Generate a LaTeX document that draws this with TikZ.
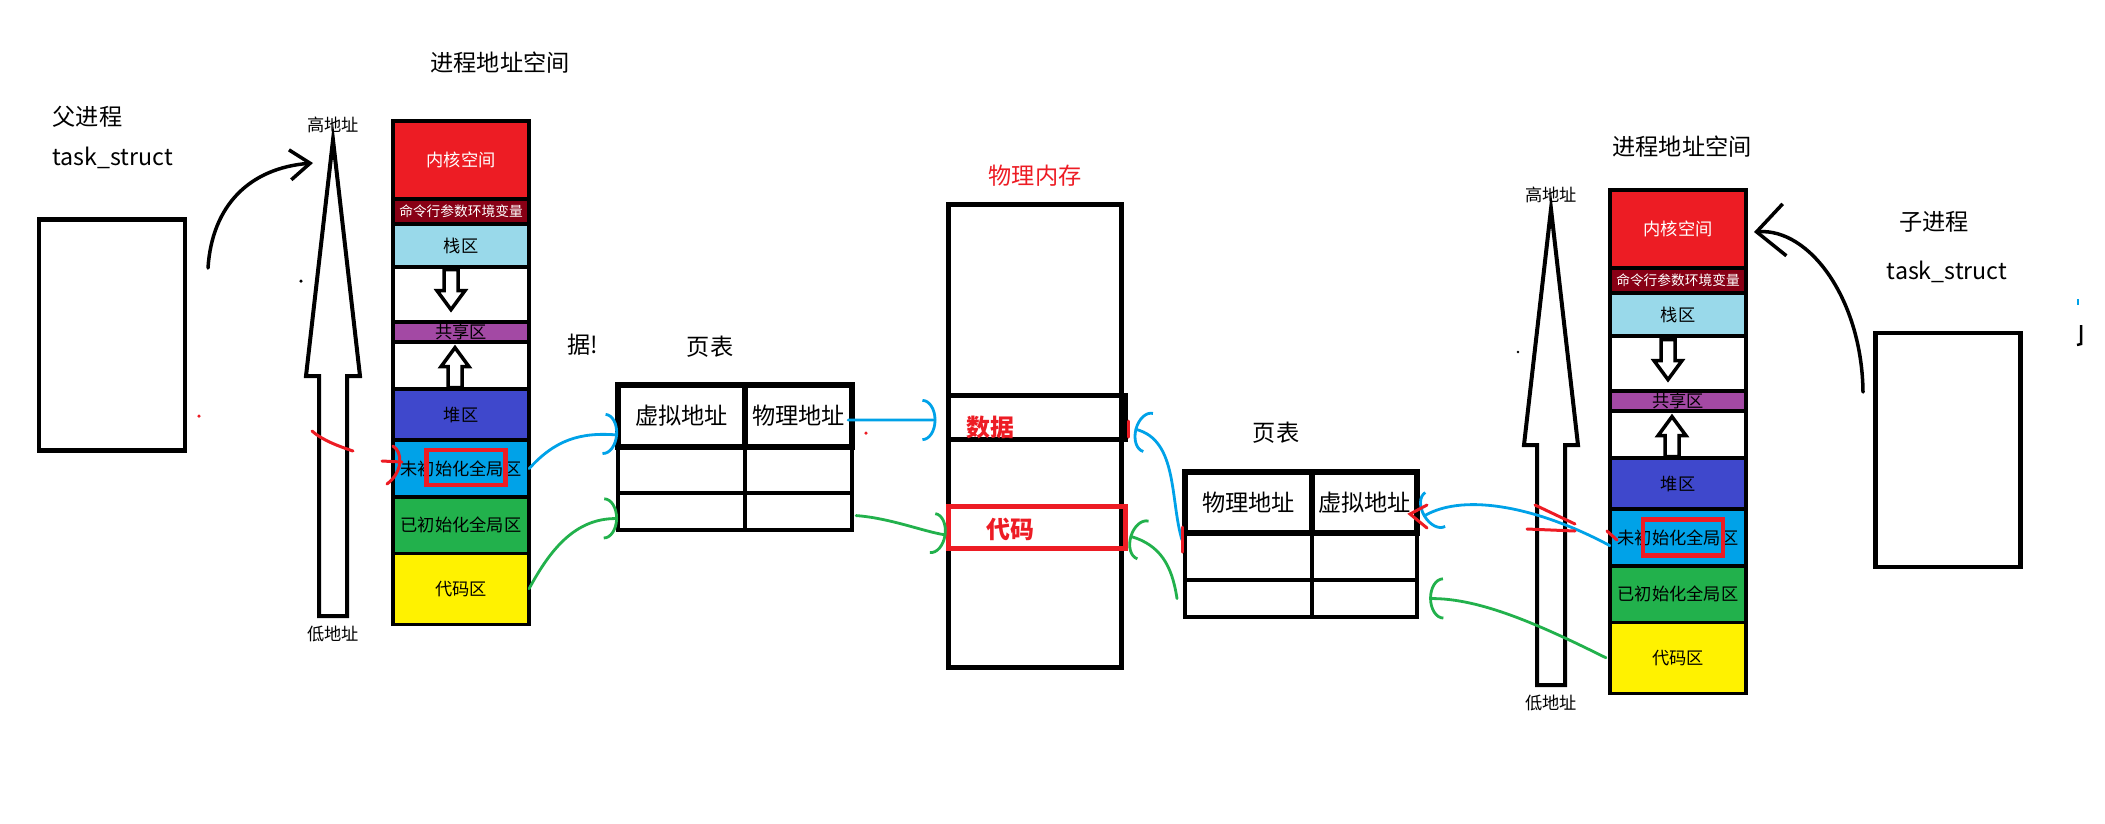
\documentclass[tikz,border=0pt]{standalone}
\usepackage{fontspec}
\setmainfont{Noto Sans CJK SC}
\usetikzlibrary{positioning, calc, arrows.meta}
\definecolor{paintred}{HTML}{ED1C24}
\definecolor{paintdark}{HTML}{880015}
\definecolor{paintsky}{HTML}{99D9EA}
\definecolor{paintpurple}{HTML}{A349A4}
\definecolor{paintindigo}{HTML}{3F48CC}
\definecolor{paintcyan}{HTML}{00A2E8}
\definecolor{paintgreen}{HTML}{22B14C}
\definecolor{paintyellow}{HTML}{FFF200}

\begin{document}
\begin{tikzpicture}[
    x=0.01cm, y=-0.01cm,
    txt/.style={inner sep=0pt, font=\fontsize{6.6}{7}\selectfont},
    addr/.style={inner sep=0pt, font=\fontsize{4.9}{5}\selectfont},
    seg/.style={rectangle, draw=black, fill=#1, line width=0.035cm, minimum width=1.36cm, inner sep=0pt, outer sep=0pt, font=\fontsize{4.9}{5}\selectfont},
    cell/.style={rectangle, draw=black, line width=0.04cm, inner sep=0pt, outer sep=0pt, font=\fontsize{6.6}{7}\selectfont},
    head/.style={cell, line width=0.055cm, minimum height=0.62cm},
    redbold/.style={inner sep=0pt, text=paintred, font=\fontsize{6.8}{7}\selectfont\bfseries},
    link/.style={line width=0.028cm, line cap=round, -{Arc Barb[length=0.14cm, width=0.42cm]}},
    sweep/.style={line width=0.035cm, line cap=round, -{Straight Barb[length=0.2cm, width=0.3cm]}},
    scribble/.style={paintred, line width=0.03cm, line cap=round},
    hollowup/.pic={\draw[line width=0.035cm, fill=white] (-7,20) -- (-7,-1) -- (-14,-1) -- (0,-20) -- (14,-1) -- (7,-1) -- (7,20) -- cycle;},
    bigup/.pic={\draw[line width=0.04cm, fill=white] (0,0) -- (27,236) -- (14,236) -- (14,476) -- (-14,476) -- (-14,236) -- (-27,236) -- cycle;}
]
\useasboundingbox (0,0) rectangle (2105,823);
\fill[white] (0,0) rectangle (2105,823);

% Parent process
\node[txt, anchor=west] (ptitle) at (52,117) {父进程};
\node[txt, anchor=west] (ptask) at (52,158) {task\_struct};
\node[draw, line width=0.042cm, minimum width=1.46cm, minimum height=2.31cm] (pbox) at (112,335) {};

% Left address space
\node[txt] (lspace) at (500,63) {进程地址空间};
\pic at (333,140) {bigup};
\node[addr] (lhigh) at (333,125) {高地址};
\node[addr] (llow) at (333,634) {低地址};
\node[seg=paintred, minimum height=0.78cm, anchor=north, text=white] (lkernel) at (461,121) {内核空间};
\node[seg=paintdark, minimum height=0.25cm, below=0pt of lkernel, text=white, font=\fontsize{3.9}{4}\selectfont] (largs) {命令行参数环境变量};
\node[seg=paintsky, minimum height=0.43cm, below=0pt of largs] (lstack) {栈区};
\node[seg=white, minimum height=0.55cm, below=0pt of lstack] (lgap1) {};
\node[seg=paintpurple, minimum height=0.20cm, below=0pt of lgap1] (lshare) {共享区};
\node[seg=white, minimum height=0.47cm, below=0pt of lshare] (lgap2) {};
\node[seg=paintindigo, minimum height=0.51cm, below=0pt of lgap2] (lheap) {堆区};
\node[seg=paintcyan, minimum height=0.57cm, below=0pt of lheap] (lbss) {未初始化全局区};
\node[seg=paintgreen, minimum height=0.56cm, below=0pt of lbss] (ldata) {已初始化全局区};
\node[seg=paintyellow, minimum height=0.71cm, below=0pt of ldata] (lcode) {代码区};
\pic[rotate=180] at ($(lgap1.center)+(-10,-5)$) {hollowup};
\pic at ($(lgap2.center)+(-6,2)$) {hollowup};
\node[draw=paintred, line width=0.045cm, minimum width=0.79cm, minimum height=0.35cm] (lmark) at ($(lbss.center)+(5,-1)$) {};

% Left page table
\node[txt] (lhint) at (583,345) {据!};
\node[txt] (lpttitle) at (710,347) {页表};
\node[head, minimum width=1.27cm, anchor=north west] (lva) at (618,385) {虚拟地址};
\node[head, minimum width=1.07cm, right=0pt of lva] (lpa) {物理地址};
\node[cell, minimum width=1.27cm, minimum height=0.46cm, below=0pt of lva] (lva2) {};
\node[cell, minimum width=1.07cm, minimum height=0.46cm, below=0pt of lpa] (lpa2) {};
\node[cell, minimum width=1.27cm, minimum height=0.37cm, below=0pt of lva2] (lva3) {};
\node[cell, minimum width=1.07cm, minimum height=0.37cm, below=0pt of lpa2] (lpa3) {};

% Physical memory
\node[txt, text=paintred] (memtitle) at (1035,176) {物理内存};
\node[draw, line width=0.05cm, minimum width=1.72cm, minimum height=4.62cm] (phymem) at (1035,436) {};
\node[draw, line width=0.05cm, minimum width=1.76cm, minimum height=0.44cm] (dataslot) at (1037,417) {};
\node[draw=paintred, line width=0.05cm, minimum width=1.76cm, minimum height=0.42cm] (codeslot) at (1037,527) {};
\node[redbold] (datalbl) at (990,427) {数据};
\node[redbold] (codelbl) at (1010,529) {代码};

% Right page table
\node[txt] (rpttitle) at (1276,433) {页表};
\node[head, minimum width=1.27cm, minimum height=0.61cm, anchor=north west] (rpa) at (1185,472) {物理地址};
\node[head, minimum width=1.05cm, minimum height=0.61cm, right=0pt of rpa] (rva) {虚拟地址};
\node[cell, minimum width=1.27cm, minimum height=0.47cm, below=0pt of rpa] (rpa2) {};
\node[cell, minimum width=1.05cm, minimum height=0.47cm, below=0pt of rva] (rva2) {};
\node[cell, minimum width=1.27cm, minimum height=0.37cm, below=0pt of rpa2] (rpa3) {};
\node[cell, minimum width=1.05cm, minimum height=0.37cm, below=0pt of rva2] (rva3) {};

% Right address space
\node[txt] (rspace) at (1682,147) {进程地址空间};
\pic at (1551,209) {bigup};
\node[addr] (rhigh) at (1551,195) {高地址};
\node[addr] (rlow) at (1551,703) {低地址};
\node[seg=paintred, minimum height=0.78cm, anchor=north, text=white] (rkernel) at (1678,190) {内核空间};
\node[seg=paintdark, minimum height=0.25cm, below=0pt of rkernel, text=white, font=\fontsize{3.9}{4}\selectfont] (rargs) {命令行参数环境变量};
\node[seg=paintsky, minimum height=0.43cm, below=0pt of rargs] (rstack) {栈区};
\node[seg=white, minimum height=0.55cm, below=0pt of rstack] (rgap1) {};
\node[seg=paintpurple, minimum height=0.20cm, below=0pt of rgap1] (rshare) {共享区};
\node[seg=white, minimum height=0.47cm, below=0pt of rshare] (rgap2) {};
\node[seg=paintindigo, minimum height=0.51cm, below=0pt of rgap2] (rheap) {堆区};
\node[seg=paintcyan, minimum height=0.57cm, below=0pt of rheap] (rbss) {未初始化全局区};
\node[seg=paintgreen, minimum height=0.56cm, below=0pt of rbss] (rdata) {已初始化全局区};
\node[seg=paintyellow, minimum height=0.71cm, below=0pt of rdata] (rcode) {代码区};
\pic[rotate=180] at ($(rgap1.center)+(-10,-4)$) {hollowup};
\pic at ($(rgap2.center)+(-6,2)$) {hollowup};
\node[draw=paintred, line width=0.045cm, minimum width=0.8cm, minimum height=0.36cm] (rmark) at ($(rbss.center)+(5,0)$) {};

% Child process
\node[txt] (ctitle) at (1934,222) {子进程};
\node[txt] (ctask) at (1947,272) {task\_struct};
\node[draw, line width=0.042cm, minimum width=1.45cm, minimum height=2.34cm] (cbox) at (1948,450) {};

% Hand-drawn black arrows
\coordinate (pfrom) at (208,268);
\coordinate (pto) at (313,163);
\draw[sweep] (pfrom) .. controls (212,205) and (250,168) .. (pto);
\coordinate (cfrom) at (1863,392);
\coordinate (cto) at (1754,232);
\draw[sweep, -{Straight Barb[length=0.28cm, width=0.52cm]}] (cfrom) .. controls (1862,300) and (1810,228) .. (cto);

% Mapping arrows
\draw[link, paintcyan] (lbss.east) .. controls (555,440) and (580,432) .. ($(lva.west)+(0,19)$);
\draw[link, paintgreen] (lcode.east) .. controls (550,550) and (575,518) .. ($(lva3.west)+(0,7)$);
\draw[link, paintcyan] ($(lpa.east)+(-4,4)$) -- ($(dataslot.west)+(-10,3)$);
\draw[link, paintgreen] ($(lpa3.east)+(4,4)$) .. controls (890,518) and (925,532) .. ($(codeslot.west)+(0,8)$);
\draw[link, paintcyan] ($(rbss.west)+(0,8)$) .. controls (1540,508) and (1465,492) .. ($(rva.east)+(6,14)$);
\draw[link, paintgreen] ($(rcode.west)+(-4,0)$) .. controls (1540,625) and (1480,598) .. ($(rva3.east)+(12,0)$);
\draw[link, paintcyan] ($(rpa.south west)+(-3,7)$) .. controls (1170,500) and (1178,440) .. ($(dataslot.east)+(7,12)$);
\draw[link, paintgreen] ($(rpa3.west)+(-8,0)$) .. controls (1172,565) and (1160,545) .. ($(codeslot.east)+(2,9)$);

% Red marks
\draw[scribble] (312,431) .. controls (322,440) and (338,446) .. (353,451);
\draw[scribble] (393,446) .. controls (403,452) and (403,472) .. (387,484);
\draw[scribble] (382,461) -- (402,462);
\draw[scribble] (1535,505) -- (1575,524);
\draw[scribble] (1527,529) -- (1575,531);
\draw[scribble] (1427,505) -- (1410,514) -- (1427,528);
\draw[scribble] (1607,531) -- (1617,540);
\draw[scribble] (1128,421) -- (1128,437);
\draw[scribble, line width=0.05cm] (1125,511) -- (1125,546);
\draw[scribble] (1182,527) -- (1182,552);
\fill[paintred] (866,433) circle[radius=0.5pt];
\fill[paintred] (199,416) circle[radius=0.5pt];
\fill (301,281) circle[radius=0.5pt];
\fill (1518,352) circle[radius=0.4pt];
\draw[paintcyan, line width=0.02cm] (2078,299) -- (2078,305);
\draw[line width=0.025cm] (2081,325) -- (2081,344) -- (2077,345);
\end{tikzpicture}
\end{document}
